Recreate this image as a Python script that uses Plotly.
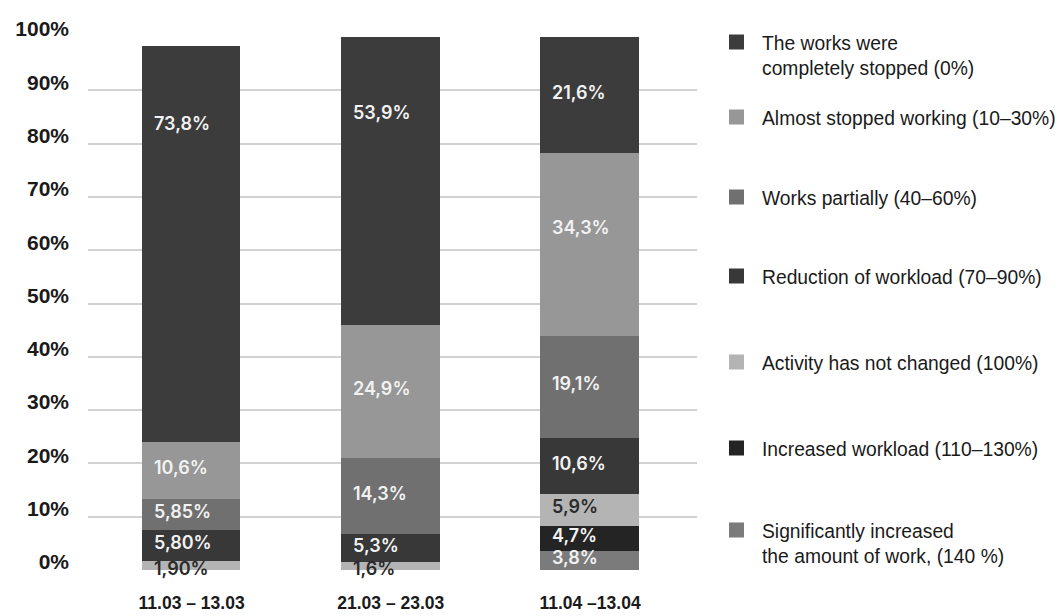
import plotly.graph_objects as go

# Survey periods
categories = ["11.03 – 13.03", "21.03 – 23.03", "11.04 –13.04"]

# Share of respondents per workload level (%), listed bottom-to-top of the stack
significantly_increased = [None, None, 3.8]
increased_workload = [None, None, 4.7]
not_changed = [1.90, 1.6, 5.9]
reduced_workload = [5.80, 5.3, 10.6]
works_partially = [5.85, 14.3, 19.1]
almost_stopped = [10.6, 24.9, 34.3]
completely_stopped = [73.8, 53.9, 21.6]

series_names = [
    "Significantly increased<br>the amount of work, (140 %)",
    "Increased workload (110–130%)",
    "Activity has not changed (100%)",
    "Reduction of workload (70–90%)",
    "Works partially (40–60%)",
    "Almost stopped working (10–30%)",
    "The works were<br>completely stopped (0%)",
]
series_values = [
    significantly_increased,
    increased_workload,
    not_changed,
    reduced_workload,
    works_partially,
    almost_stopped,
    completely_stopped,
]
series_colors = ["#7b7b7b", "#242424", "#b4b4b4", "#383838", "#707070", "#979797", "#3c3c3c"]
label_colors = ["#f2f2f2", "#f2f2f2", "#2a2a2a", "#f2f2f2", "#f2f2f2", "#f2f2f2", "#f2f2f2"]

# Values below 10 % in the first period were reported with two decimals
small_value_decimals = [2, 1, 1]

ytick_values = list(range(0, 101, 10))
ytick_labels = [f"{v}%" for v in ytick_values]

BAR_WIDTH = 0.48
PLOT_LEFT, PLOT_RIGHT, PLOT_TOP, PLOT_BOTTOM = 88, 697, 37, 570
W, H = 1064, 616

# Legend placement (pixel row of each entry's top edge), top entry first
legend_rows = [23, 98, 178, 257, 343, 429, 511]

fig = go.Figure()
legend_ids = ["legend"] + [f"legend{i}" for i in range(2, 8)]

n = len(series_names)
for k, (name, vals, col) in enumerate(zip(series_names, series_values, series_colors)):
    fig.add_trace(go.Bar(
        x=categories,
        y=vals,
        name=name,
        width=BAR_WIDTH,
        marker=dict(color=col, line=dict(color=col, width=3)),
        legend=legend_ids[n - 1 - k],
        hoverinfo="skip",
    ))

# Value labels: left-aligned inside each segment, centred vertically,
# lifted toward the top of tall segments; thin segments get the label on
# their lower edge
for i in range(len(categories)):
    base = 0.0
    for k, vals in enumerate(series_values):
        v = vals[i]
        if v is None:
            continue
        top = base + v
        if v < 3:
            ypos = base
        else:
            ypos = max(base + v / 2, top - 14.5)
        dec = small_value_decimals[i] if v < 10 else 1
        txt = f"{v:.{dec}f}".replace(".", ",") + "%"
        fig.add_annotation(
            x=i - BAR_WIDTH / 2, y=ypos, xref="x", yref="y",
            text=txt, showarrow=False, xanchor="left", yanchor="middle",
            xshift=8, yshift=2,
            font=dict(family="Inter", size=18, color=label_colors[k], weight=600),
        )
        base = top

pw = PLOT_RIGHT - PLOT_LEFT
ph = PLOT_BOTTOM - PLOT_TOP
legend_x = (711 - PLOT_LEFT) / pw
layout_legends = {}
for j, lid in enumerate(legend_ids):
    layout_legends[lid] = dict(
        x=legend_x,
        y=(PLOT_BOTTOM - legend_rows[j]) / ph,
        xanchor="left", yanchor="top",
        valign="top",
        itemwidth=41,
        bgcolor="rgba(0,0,0,0)",
        font=dict(family="Liberation Sans, Arial", size=19.3, color="#1a1a1a"),
        itemclick=False, itemdoubleclick=False,
    )

fig.update_layout(
    width=W, height=H,
    margin=dict(l=PLOT_LEFT, r=W - PLOT_RIGHT, t=PLOT_TOP, b=H - PLOT_BOTTOM,
                pad=0, autoexpand=False),
    barmode="stack",
    plot_bgcolor="white",
    paper_bgcolor="white",
    bargap=0,
    showlegend=True,
    **layout_legends,
)

fig.update_xaxes(
    range=[-0.52, 2.537],
    showgrid=False, zeroline=False, showline=False, automargin=False,
    ticks="", ticklabelstandoff=20,
    tickfont=dict(family="Liberation Sans, Arial", size=17.5, color="#1a1a1a", weight="bold"),
)
fig.update_yaxes(
    range=[0, 100],
    tickvals=ytick_values, ticktext=ytick_labels,
    showgrid=True, gridcolor="#d2d2d2", gridwidth=2,
    zeroline=False, showline=False, automargin=False,
    ticks="", ticklabelstandoff=18, ticklabelshift=-8,
    tickfont=dict(family="Liberation Sans, Arial", size=21, color="#1a1a1a", weight="bold"),
)

fig.write_html("out.html")
